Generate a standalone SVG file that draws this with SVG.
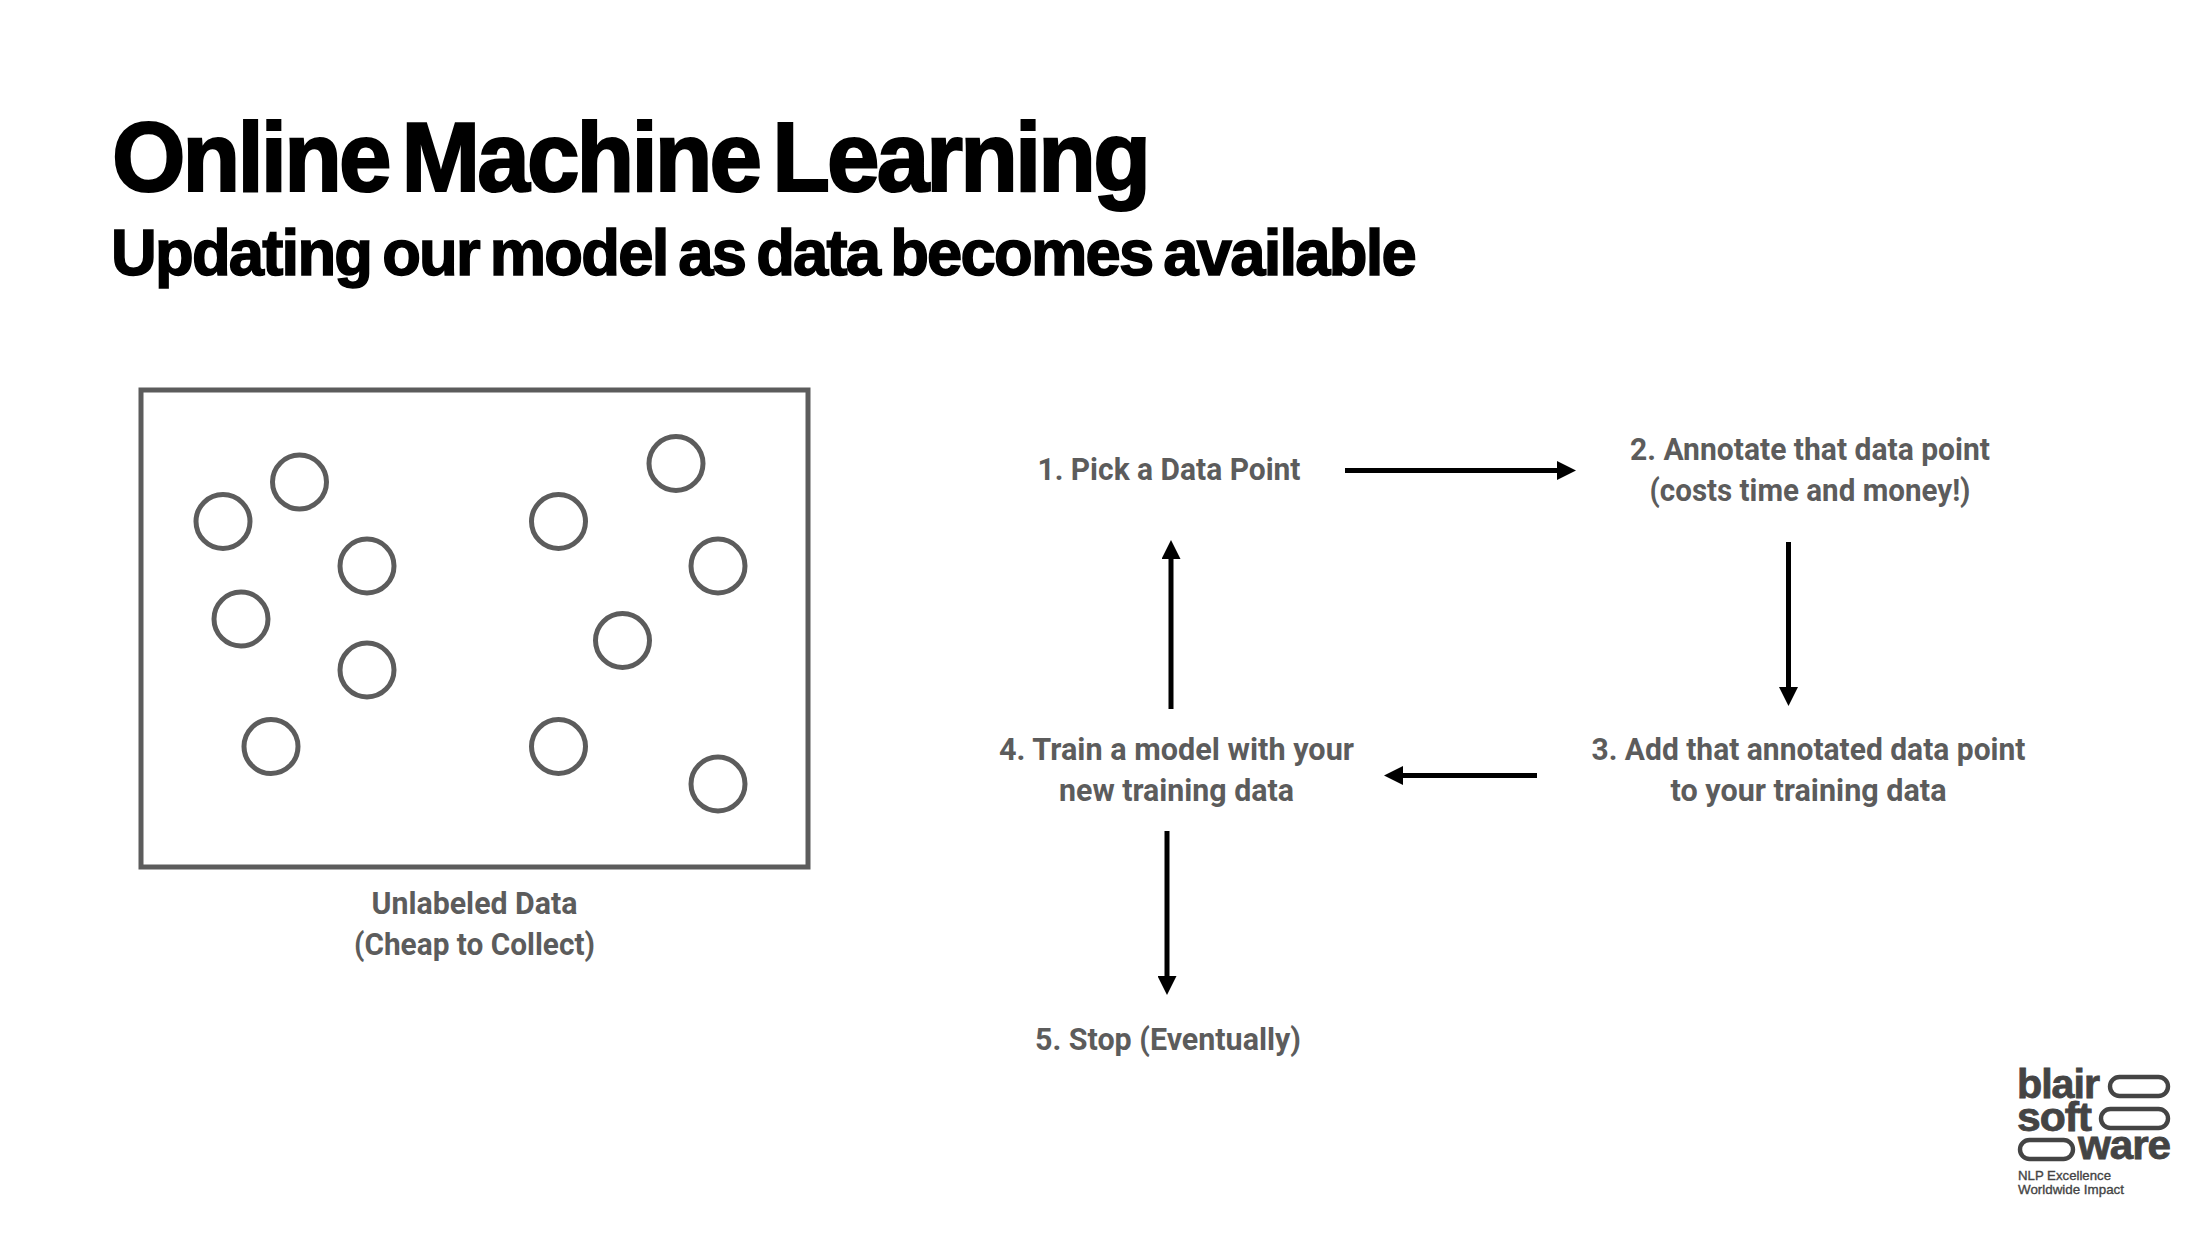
<svg xmlns="http://www.w3.org/2000/svg" width="2198" height="1234" viewBox="0 0 2198 1234">
<style>
.h{font-family:"Liberation Sans",Arial,sans-serif;font-weight:700;fill:#000;stroke:#000;paint-order:stroke}
.t{font-family:Roboto,"Liberation Sans",sans-serif;font-weight:700;font-size:31px;fill:#5c5c5c;text-anchor:middle}
.c{fill:none;stroke:#5c5c5c;stroke-width:5}
.a{stroke:#000;stroke-width:5;fill:none;marker-end:url(#head)}
.l{font-family:"Liberation Sans",Arial,sans-serif;font-weight:700;font-size:40px;fill:#444;stroke:#444;stroke-width:.8;letter-spacing:-1px}
.m{font-family:"Liberation Sans",Arial,sans-serif;font-weight:400;font-size:13.500px;fill:#444;stroke:#444;stroke-width:.35}
.p{fill:none;stroke:#444;stroke-width:4.400}
</style>
<defs>
<marker id="head" markerUnits="userSpaceOnUse" markerWidth="19" markerHeight="19" viewBox="0 0 19 19" refX="0" refY="9.500" orient="auto"><path d="M0 0L19 9.500L0 19Z"/></marker>
</defs>
<rect width="2198" height="1234" fill="#fff"/>
<g id="title">
<text class="h" x="112" y="191" font-size="99" stroke-width="2.200" letter-spacing="-3" word-spacing="-11" textLength="1036" lengthAdjust="spacingAndGlyphs">Online Machine Learning</text>
<text class="h" x="111" y="275" font-size="64" stroke-width="1.500" letter-spacing="-1.800" word-spacing="-5" textLength="1304" lengthAdjust="spacingAndGlyphs">Updating our model as data becomes available</text>
</g>
<g id="unlabeled-data">
<rect x="141" y="390" width="667" height="477" class="c"/>
<circle class="c" cx="299.500" cy="482" r="27"/>
<circle class="c" cx="223" cy="521.500" r="27"/>
<circle class="c" cx="367" cy="566" r="27"/>
<circle class="c" cx="241" cy="619" r="27"/>
<circle class="c" cx="367" cy="670" r="27"/>
<circle class="c" cx="271" cy="746.500" r="27"/>
<circle class="c" cx="558.500" cy="521.500" r="27"/>
<circle class="c" cx="676" cy="463.500" r="27"/>
<circle class="c" cx="718" cy="566" r="27"/>
<circle class="c" cx="622.500" cy="640.500" r="27"/>
<circle class="c" cx="558.500" cy="746.500" r="27"/>
<circle class="c" cx="718" cy="784" r="27"/>
<text class="t" x="474.500" y="914" textLength="206" lengthAdjust="spacingAndGlyphs">Unlabeled Data</text>
<text class="t" x="474.500" y="955" textLength="241" lengthAdjust="spacingAndGlyphs">(Cheap to Collect)</text>
</g>
<g id="step1"><text class="t" x="1169" y="480" textLength="263" lengthAdjust="spacingAndGlyphs">1. Pick a Data Point</text></g>
<g id="step2"><text class="t" x="1810" y="460" textLength="360" lengthAdjust="spacingAndGlyphs">2. Annotate that data point</text>
<text class="t" x="1810" y="501" textLength="321" lengthAdjust="spacingAndGlyphs">(costs time and money!)</text></g>
<g id="step3"><text class="t" x="1808.500" y="760" textLength="434" lengthAdjust="spacingAndGlyphs">3. Add that annotated data point</text>
<text class="t" x="1808.500" y="801" textLength="276" lengthAdjust="spacingAndGlyphs">to your training data</text></g>
<g id="step4"><text class="t" x="1176.500" y="760" textLength="355" lengthAdjust="spacingAndGlyphs">4. Train a model with your</text>
<text class="t" x="1176.500" y="801" textLength="235" lengthAdjust="spacingAndGlyphs">new training data</text></g>
<g id="step5"><text class="t" x="1168" y="1050" textLength="266" lengthAdjust="spacingAndGlyphs">5. Stop (Eventually)</text></g>
<g id="connectors">
<path class="a" d="M1345 470.500H1557"/>
<path class="a" d="M1788.500 542V687"/>
<path class="a" d="M1537 775.500H1403"/>
<path class="a" d="M1171 709V559"/>
<path class="a" d="M1167 831V976"/>
</g>
<g id="logo">
<text class="l" x="2017" y="1098" textLength="82" lengthAdjust="spacingAndGlyphs">blair</text>
<text class="l" x="2017" y="1131" textLength="74" lengthAdjust="spacingAndGlyphs">soft</text>
<text class="l" x="2078" y="1159" textLength="92" lengthAdjust="spacingAndGlyphs">ware</text>
<rect class="p" x="2110" y="1077" width="58" height="19" rx="9.500"/>
<rect class="p" x="2101" y="1109" width="67" height="19" rx="9.500"/>
<rect class="p" x="2020" y="1140" width="53" height="19" rx="9.500"/>
<text class="m" x="2018" y="1180" textLength="93" lengthAdjust="spacingAndGlyphs">NLP Excellence</text>
<text class="m" x="2018" y="1194" textLength="106" lengthAdjust="spacingAndGlyphs">Worldwide Impact</text>
</g>
</svg>
